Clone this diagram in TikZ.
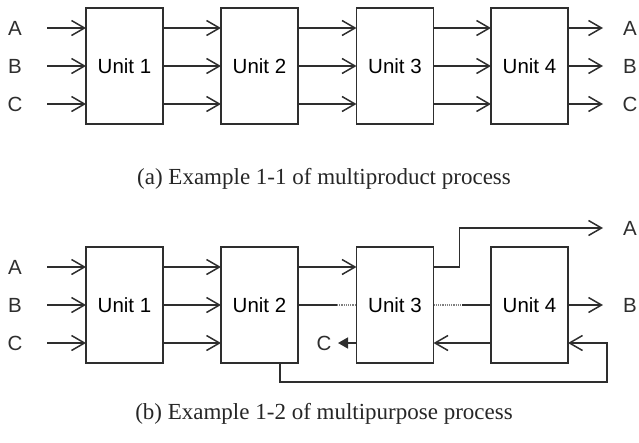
\documentclass[tikz,border=0pt]{standalone}
\usepackage{fontspec}
\setmainfont{Liberation Serif}
\newfontfamily\diagfont{Liberation Sans}
\usetikzlibrary{positioning,arrows.meta,calc}
\definecolor{inkGray}{HTML}{2E2E2E}

\begin{document}
\begin{tikzpicture}[
    x=1pt, y=-1pt,
    unitBox/.style={rectangle, draw=inkGray, line width=1.5pt, minimum width=77pt, minimum height=116pt, inner sep=0pt, outer sep=0pt, font=\diagfont\fontsize{20.5}{24}\selectfont},
    flowLabel/.style={inner sep=0pt, text=inkGray, font=\diagfont\fontsize{20.5}{24}\selectfont},
    capText/.style={inner sep=0pt, text=black!85, font=\fontsize{23}{27}\selectfont},
    flowArrow/.style={-{Straight Barb[length=13pt, width=15pt, line width=1.5pt]}, line width=1.5pt, draw=inkGray},
    fillArrow/.style={-{Triangle[length=10pt, width=11pt]}, line width=1.5pt, draw=inkGray, fill=inkGray},
    plainLine/.style={line width=1.5pt, draw=inkGray},
    bypassLine/.style={densely dotted, line width=1.2pt, draw=gray}
]
    \useasboundingbox (0,0) rectangle (639,442);

    % (a) multiproduct: four units in series
    \node[unitBox] (t1) at (124.5, 66) {Unit 1};
    \node[unitBox] (t2) at (259.5, 66) {Unit 2};
    \node[unitBox] (t3) at (395, 66) {Unit 3};
    \node[unitBox] (t4) at (529.5, 66) {Unit 4};

    \foreach \p/\yy in {A/28, B/66, C/104} {
        \node[flowLabel] (tin\p) at (15, \yy) {\p};
        \node[flowLabel] (tout\p) at (630, \yy) {\p};
        \coordinate (ts\p) at (47, \yy);
        \coordinate (te\p) at (603, \yy);
        \draw[flowArrow] (ts\p) -- (t1.west |- ts\p);
        \draw[flowArrow] (t1.east |- ts\p) -- (t2.west |- ts\p);
        \draw[flowArrow] (t2.east |- ts\p) -- (t3.west |- ts\p);
        \draw[flowArrow] (t3.east |- ts\p) -- (t4.west |- ts\p);
        \draw[flowArrow] (t4.east |- ts\p) -- (te\p);
    }

    \node[capText] (capA) at (324, 179) {(a) Example 1-1 of multiproduct process};

    % (b) multipurpose: bypass, side exits and recycle
    \node[unitBox] (b1) at (124.5, 305) {Unit 1};
    \node[unitBox] (b2) at (259.5, 305) {Unit 2};
    \node[unitBox] (b3) at (395, 305) {Unit 3};
    \node[unitBox] (b4) at (529.5, 305) {Unit 4};

    \foreach \p/\yy in {A/267, B/305, C/343} {
        \node[flowLabel] (bin\p) at (15, \yy) {\p};
        \coordinate (bs\p) at (47, \yy);
        \draw[flowArrow] (bs\p) -- (b1.west |- bs\p);
        \draw[flowArrow] (b1.east |- bs\p) -- (b2.west |- bs\p);
    }

    % stream A leaves after unit 3
    \draw[flowArrow] (b2.east |- bsA) -- (b3.west |- bsA);
    \coordinate (beA) at (603, 228);
    \node[flowLabel] (boutA) at (630, 228) {A};
    \draw[flowArrow] (b3.east |- bsA) -- ++(26, 0) |- (beA);

    % stream B skips unit 3
    \coordinate (skipL) at (337, 305);
    \coordinate (skipR) at (462, 305);
    \draw[plainLine] (b2.east |- bsB) -- (skipL);
    \draw[bypassLine] (skipL) -- (b3.west |- bsB);
    \draw[bypassLine] (b3.east |- bsB) -- (skipR);
    \draw[plainLine] (skipR) -- (b4.west |- bsB);
    \coordinate (beB) at (603, 305);
    \node[flowLabel] (boutB) at (630, 305) {B};
    \draw[flowArrow] (b4.east |- bsB) -- (beB);

    % stream C recycled back through unit 4 and out of unit 3
    \coordinate (loopR) at (607, 382);
    \draw[flowArrow] ([xshift=20.5pt]b2.south) |- (loopR) |- (b4.east |- bsC);
    \draw[flowArrow] (b4.west |- bsC) -- (b3.east |- bsC);
    \coordinate (beC) at (338, 343);
    \node[flowLabel] (boutC) at (324, 343) {C};
    \draw[fillArrow] (b3.west |- bsC) -- (beC);

    \node[capText] (capB) at (324, 414) {(b) Example 1-2 of multipurpose process};
\end{tikzpicture}
\end{document}
